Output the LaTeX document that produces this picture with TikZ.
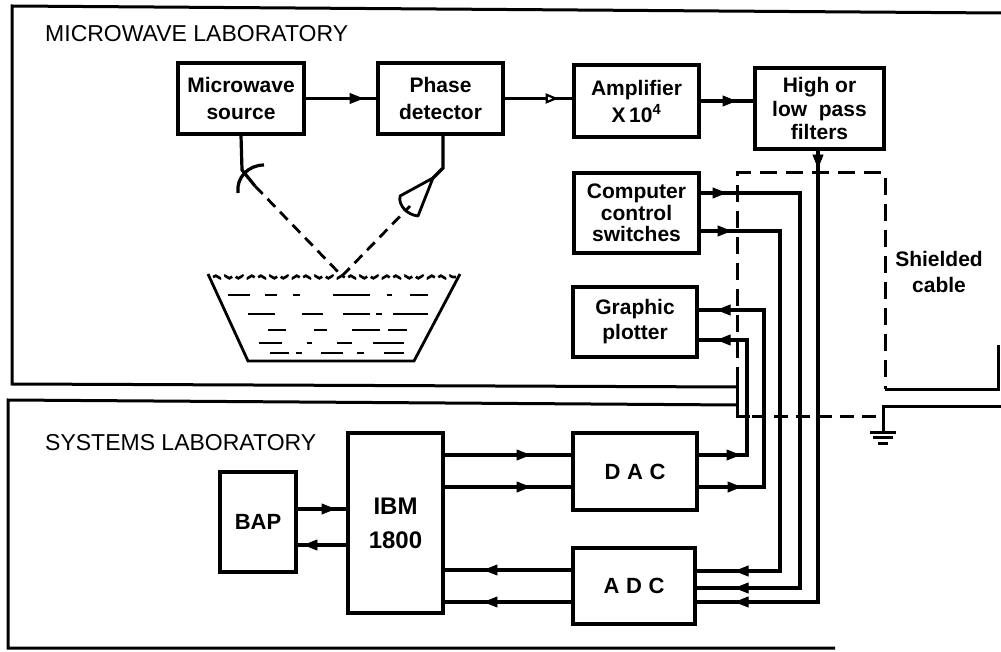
\documentclass[tikz,border=0pt]{standalone}
\usepackage{fontspec}
\setmainfont{Liberation Sans}
\usetikzlibrary{arrows.meta,decorations.markings,decorations.pathmorphing}
\newcommand\lbfont{\fontsize{23}{26}\selectfont}
\begin{document}
\begin{tikzpicture}[x=1pt,y=-1pt,
  box/.style={draw, line width=3.2pt, inner sep=0pt, align=center},
  wire/.style={line width=3.2pt},
  frame/.style={line width=3pt},
  shield/.style={line width=3pt, dash pattern=on 17pt off 9pt},
  beam/.style={line width=2.8pt, dash pattern=on 11pt off 7pt},
  tipA/.tip={Triangle[length=14pt,width=11pt,line width=0.8pt]},
  tipO/.tip={Triangle[open,fill=white,length=13pt,width=10pt,line width=2.2pt]},
  arrowat/.style={postaction={decorate, decoration={markings, mark=at position #1 with {\arrow{tipA}}}}},
  openat/.style={postaction={decorate, decoration={markings, mark=at position #1 with {\arrow{tipO}}}}},
]
\useasboundingbox (0,0) rectangle (1001,652);

% ---------- laboratory walls ----------
\draw[frame] (737,387) -- (12,384) -- (12,6) -- (1001,13);
\draw[frame] (998,345) -- (998,389) -- (885,389);
\draw[frame] (737,405) -- (8,400) -- (8,648) -- (835,648);
\draw[frame] (1001,406) -- (883,406) -- (883,432);

% ---------- labels ----------
\node[font=\lbfont, anchor=west, inner sep=0pt] (mwlab) at (45,34) {MICROWAVE LABORATORY};
\node[font=\lbfont, anchor=west, inner sep=0pt] (syslab) at (45,443) {SYSTEMS LABORATORY};

% ---------- boxes ----------
\node[box, minimum width=126pt, minimum height=71pt, font={\bfseries\fontsize{21}{27}\selectfont}] (src) at (241,98.5) {Microwave\\source};
\node[box, minimum width=125pt, minimum height=71pt, font={\bfseries\fontsize{21}{27}\selectfont}] (phd) at (440.5,98.5) {Phase\\detector};
\node[box, minimum width=125pt, minimum height=72pt, font={\bfseries\fontsize{21}{27}\selectfont}] (amp) at (636.5,101) {Amplifier\\X\,10\textsuperscript{4}};
\node[box, minimum width=129pt, minimum height=81pt, font={\bfseries\fontsize{21}{23.5}\selectfont}] (flt) at (819.5,108.5) {High or\\low\ \ pass\\filters};
\node[box, minimum width=125pt, minimum height=80pt, font={\bfseries\fontsize{21}{21.5}\selectfont}] (ccs) at (636.5,213) {Computer\\control\\switches};
\node[box, minimum width=124pt, minimum height=70pt, font={\bfseries\fontsize{21}{25}\selectfont}] (gpl) at (635,322) {Graphic\\plotter};
\node[box, minimum width=124pt, minimum height=77pt, font={\bfseries\fontsize{22}{26}\selectfont}] (dac) at (635,471.5) {D\hspace{0.3em}A\hspace{0.3em}C};
\node[box, minimum width=122pt, minimum height=76pt, font={\bfseries\fontsize{22}{26}\selectfont}] (adc) at (634,586) {A\hspace{0.3em}D\hspace{0.3em}C};
\node[box, minimum width=95pt, minimum height=180pt, font={\bfseries\fontsize{24}{34}\selectfont}] (ibm) at (395.5,523) {IBM\\1800};
\node[box, minimum width=76pt, minimum height=100pt, font={\bfseries\fontsize{22}{26}\selectfont}] (bap) at (258,522) {BAP};

\node[font={\bfseries\fontsize{21}{26}\selectfont}, align=center, inner sep=0pt] (shc) at (939,272) {Shielded\\cable};

% ---------- level coordinates ----------
\coordinate (yc1) at (0,193);
\coordinate (yc2) at (0,231);
\coordinate (yg1) at (0,310);
\coordinate (yg2) at (0,340);
\coordinate (yd1) at (0,455);
\coordinate (yd2) at (0,487);
\coordinate (ya1) at (0,571);
\coordinate (ya2) at (0,588);
\coordinate (ya3) at (0,602);
\coordinate (yb1) at (0,509);
\coordinate (yb2) at (0,545);
\coordinate (yi1) at (0,570);
\coordinate (yi2) at (0,602);
\coordinate (xw1) at (747,0);
\coordinate (xw2) at (764,0);
\coordinate (xw3) at (780,0);
\coordinate (xw4) at (800,0);
\coordinate (xw5) at (818,0);

% ---------- top chain ----------
\draw[wire, arrowat=58pt] (src.east) -- (phd.west |- src.east);
\draw[wire, openat=54pt] (phd.east) -- (amp.west |- phd.east);
\draw[wire, arrowat=36pt] (amp.east) -- (flt.west |- amp.east);

% ---------- wiring to ADC / from DAC ----------
\draw[wire, arrowat=18pt, arrowat=-38pt] (flt.south -| xw5) -- (xw5 |- ya3) -- (adc.east |- ya3);
\draw[wire, arrowat=26pt, arrowat=-38pt] (ccs.east |- yc1) -- (xw4 |- yc1) -- (xw4 |- ya2) -- (adc.east |- ya2);
\draw[wire, arrowat=31pt, arrowat=-38pt] (ccs.east |- yc2) -- (xw3 |- yc2) -- (xw3 |- ya1) -- (adc.east |- ya1);
\draw[wire, arrowat=42pt, arrowat=-18pt] (dac.east |- yd1) -- (xw1 |- yd1) -- (xw1 |- yg2) -- (gpl.east |- yg2);
\draw[wire, arrowat=43pt, arrowat=-18pt] (dac.east |- yd2) -- (xw2 |- yd2) -- (xw2 |- yg1) -- (gpl.east |- yg1);

% ---------- systems lab ----------
\draw[wire, arrowat=86pt] (ibm.east |- yd1) -- (dac.west |- yd1);
\draw[wire, arrowat=86pt] (ibm.east |- yd2) -- (dac.west |- yd2);
\draw[wire, arrowat=88pt] (adc.west |- yi1) -- (ibm.east |- yi1);
\draw[wire, arrowat=88pt] (adc.west |- yi2) -- (ibm.east |- yi2);
\draw[wire, arrowat=38pt] (bap.east |- yb1) -- (ibm.west |- yb1);
\draw[wire, arrowat=43pt] (ibm.west |- yb2) -- (bap.east |- yb2);

% ---------- shield ----------
\draw[shield] (737,384) -- (737,173) -- (885,173) -- (885,389);
\draw[frame] (737,380) -- (737,416) -- (750,416);
\draw[shield, dash pattern=on 14pt off 8pt] (752,416) -- (883,416);
\draw[line width=3pt] (870,432) -- (896,432);
\draw[line width=3pt] (873,437.5) -- (893,437.5);
\draw[line width=3pt] (878,443) -- (888,443);

% ---------- antennas and beams ----------
\coordinate (bowlc) at (342,276);
\draw[wire] (src.south) -- (242,170) -- (255,186);
\draw[wire] (238,193) .. controls (236,178) and (248,165) .. (264,165);
\draw[beam] (255,186) -- (bowlc);
\draw[wire] (phd.south -| 443,0) -- (443,168) -- (433,178);
\draw[line width=2.8pt, line join=round] (433,178) -- (400,196) .. controls (398,206) and (408,215) .. (418,216) -- cycle;
\draw[beam] (bowlc) -- (410,206);

% ---------- bowl ----------
\draw[line width=2.8pt] (208,274) -- (248,361) -- (414,361) -- (460,274);
\draw[line width=2.6pt, decorate, decoration={snake, amplitude=1.3pt, segment length=9pt}, dash pattern=on 9pt off 4pt] (213,277) -- (456,277);
\foreach \a/\b/\y in {228/250/295, 265/277/295, 293/300/295, 333/370/295, 387/392/295, 410/428/295,
                      248/275/314, 302/323/314, 343/370/314, 376/382/314, 393/428/314,
                      268/286/330, 314/327/330, 352/380/330, 388/407/330,
                      259/282/343, 307/312/343, 337/352/343, 373/404/343,
                      270/289/353, 296/302/353, 321/343/353, 357/364/353, 384/404/353}
  \draw[line width=2.8pt] (\a,\y) -- (\b,\y);
\end{tikzpicture}
\end{document}
